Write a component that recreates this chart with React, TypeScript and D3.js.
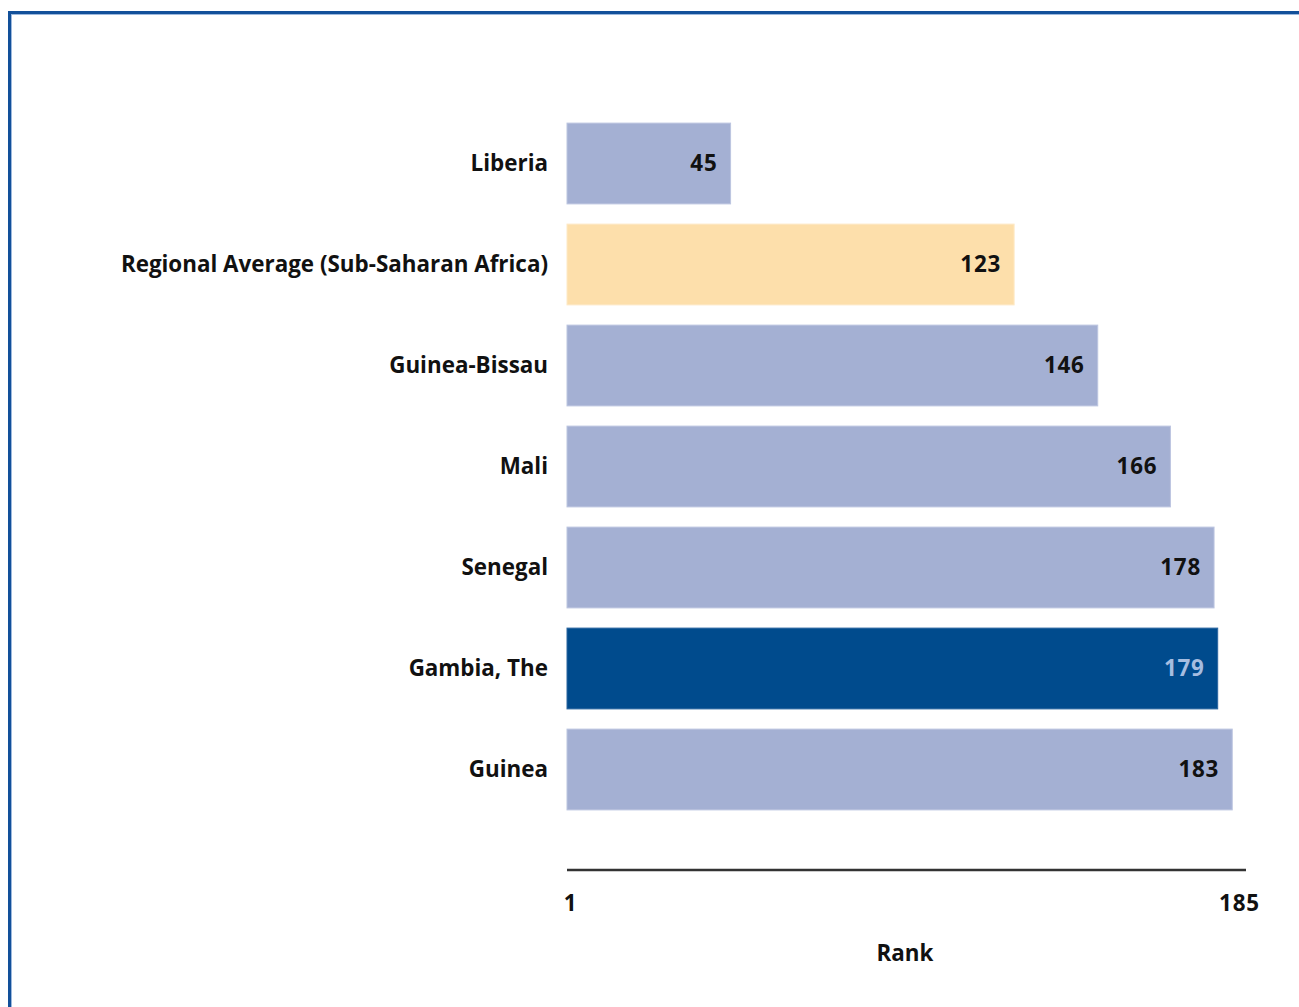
import React from "react";
import * as d3 from "d3";

const categories = ["Liberia", "Regional Average (Sub-Saharan Africa)", "Guinea-Bissau", "Mali", "Senegal", "Gambia, The", "Guinea"];
const ranks = [45, 123, 146, 166, 178, 179, 183];
const barKinds = ["other", "region", "other", "other", "other", "focus", "other"];
const axisTicks = [1, 185];
const axisTitle = "Rank";

const W = 1299;
const H = 1007;
const FONT = "'Open Sans', sans-serif";

export default function App() {
  const x = d3.scaleLinear().domain([0, 185]).range([567, 1239.5]);
  const y = d3.scaleBand<string>().domain(categories).range([113, 820]).paddingInner(0.2).paddingOuter(0.1);
  const fill = (k: string) => (k === "region" ? "#fddfab" : k === "focus" ? "#004b8d" : "#a4b0d3");
  const stroke = (k: string) => (k === "region" ? "#fee9c6" : k === "focus" ? "#2a66a0" : "#bcc5e0");
  const labelColor = (k: string) => (k === "focus" ? "#a6bde0" : "#111111");
  return (
    <svg width={W} height={H} style={{ position: "absolute", left: 0, top: 0 }}>
      <rect x={0} y={0} width={W} height={H} fill="#ffffff" />
      <rect x={9.5} y={12.5} width={W + 20} height={H + 20} fill="none" stroke="#12509a" strokeWidth={3} />
      <rect x={11.5} y={14.5} width={W + 20} height={H + 20} fill="none" stroke="#9db9dd" strokeWidth={1} />
      {categories.map((c, i) => {
        const y0 = y(c) as number;
        const bh = y.bandwidth();
        return (
          <g key={c}>
            <rect x={x(0)} y={y0} width={x(ranks[i]) - x(0)} height={bh} fill={fill(barKinds[i])} stroke={stroke(barKinds[i])} strokeWidth={1} />
            <text x={548} y={y0 + bh / 2} dy="0.35em" textAnchor="end" fontFamily={FONT} fontWeight={700} fontSize={22.4} fill="#111111">{c}</text>
            <text x={x(ranks[i]) - 13} y={y0 + bh / 2} dy="0.35em" textAnchor="end" fontFamily={FONT} fontWeight={700} fontSize={22.4} letterSpacing={0.8} fill={labelColor(barKinds[i])}>{ranks[i]}</text>
          </g>
        );
      })}
      <line x1={567} x2={1246} y1={870} y2={870} stroke="#333333" strokeWidth={2.5} />
      {axisTicks.map((t) => (
        <text key={t} x={x(t)} y={903} dy="0.35em" textAnchor="middle" fontFamily={FONT} fontWeight={700} fontSize={22.4} letterSpacing={0.8} fill="#111111">{t}</text>
      ))}
      <text x={905} y={953} dy="0.35em" textAnchor="middle" fontFamily={FONT} fontWeight={700} fontSize={22.4} fill="#111111">{axisTitle}</text>
    </svg>
  );
}
